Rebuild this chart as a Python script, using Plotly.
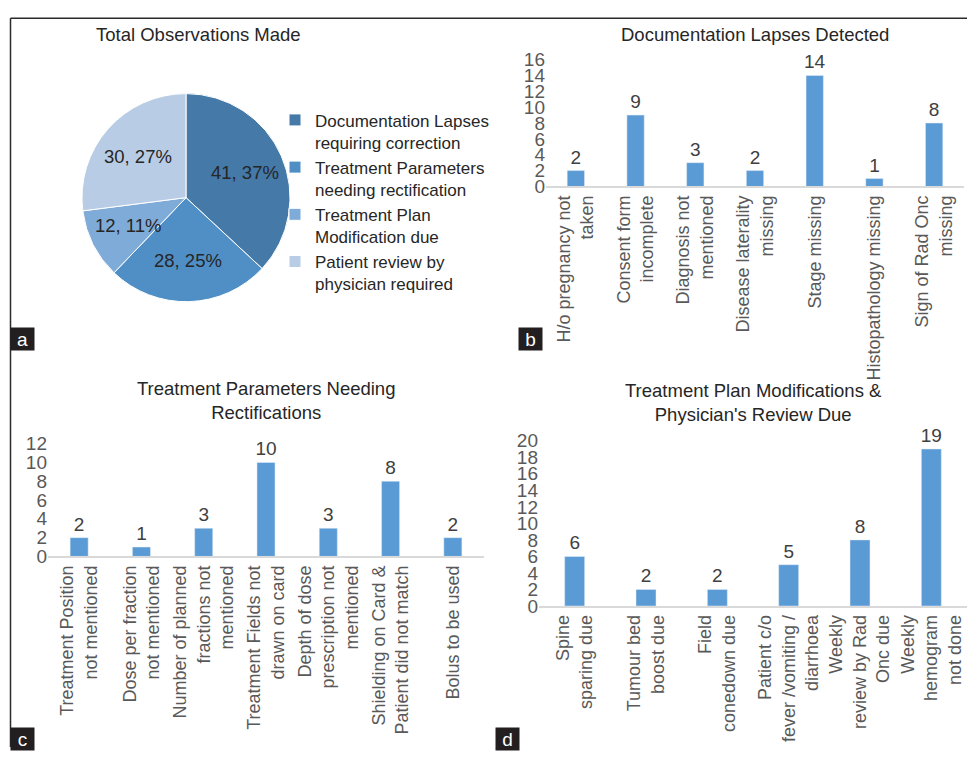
import math
import plotly.graph_objects as go

W, H = 967, 758

# ---------------- data ----------------
pie_labels = ["Documentation Lapses<br>requiring correction",
              "Treatment Parameters<br>needing rectification",
              "Treatment Plan<br>Modification due",
              "Patient review by<br>physician required"]
pie_values = [41, 28, 12, 30]
pie_colors = ["#4479A8", "#4F8FC6", "#7EABD8", "#B8CDE5"]

doc_cats = ["H/o pregnancy not<br>taken", "Consent form<br>incomplete", "Diagnosis not<br>mentioned",
            "Disease laterality<br>missing", "Stage missing", "Histopathology missing",
            "Sign of Rad Onc<br>missing"]
doc_vals = [2, 9, 3, 2, 14, 1, 8]

par_cats = ["Treatment Position<br>not mentioned", "Dose per fraction<br>not mentioned",
            "Number of planned<br>fractions not<br>mentioned", "Treatment Fields not<br>drawn on card",
            "Depth of dose<br>prescription not<br>mentioned", "Shielding on Card &<br>Patient did not match",
            "Bolus to be used"]
par_vals = [2, 1, 3, 10, 3, 8, 2]

plan_cats = ["Spine<br>sparing due", "Tumour bed<br>boost due", "Field<br>conedown due",
             "Patient c/o<br>fever /vomiting /<br>diarrhoea", "Weekly<br>review by Rad<br>Onc due",
             "Weekly<br>hemogram<br>not done"]
plan_vals = [6, 2, 2, 5, 8, 19]

titles = ["Total Observations Made", "Documentation Lapses Detected",
          "Treatment Parameters Needing<br>Rectifications",
          "Treatment Plan Modifications &<br>Physician's Review Due"]
panel_letters = ["a", "b", "c", "d"]

# ---------------- styling ----------------
FONT = "Liberation Sans, Arial, sans-serif"
BAR = "#5B9BD5"
TICK = "#595959"
DARK = "#262626"


def px(x):
    return x / W


def py(y):
    return 1 - y / H


fig = go.Figure()

# pie geometry (pixels)
PIE_L, PIE_R, PIE_T, PIE_B = 79, 293, 86, 300
fig.add_trace(go.Pie(
    labels=pie_labels, values=pie_values, sort=False, direction="clockwise", rotation=0,
    marker=dict(colors=pie_colors, line=dict(color="white", width=1)),
    textinfo="none",
    domain=dict(x=[px(PIE_L), px(PIE_R)], y=[py(PIE_B), py(PIE_T)]),
    hoverinfo="skip", showlegend=True))

# slice labels "value, percent" placed along each slice's mid-angle (derived from the data)
total = sum(pie_values)
cx, cy, r = (PIE_L + PIE_R) / 2, (PIE_T + PIE_B) / 2, (PIE_R - PIE_L) / 2
cum = 0
for v in pie_values:
    mid = (cum + v / 2) / total * 2 * math.pi
    cum += v
    lx = cx + 0.6 * r * math.sin(mid)
    ly = cy - 0.6 * r * math.cos(mid)
    fig.add_annotation(text=f"{v}, {round(100 * v / total)}%", x=px(lx), y=py(ly),
                       xref="paper", yref="paper", showarrow=False,
                       xanchor="center", yanchor="middle",
                       font=dict(size=18.5, color=DARK, family=FONT))

bar_specs = [
    (doc_cats, doc_vals, "x", "y", 0.29),
    (par_cats, par_vals, "x2", "y2", 0.29),
    (plan_cats, plan_vals, "x3", "y3", 0.28),
]
for cats, vals, xa, ya, w in bar_specs:
    fig.add_trace(go.Bar(
        x=cats, y=vals, xaxis=xa, yaxis=ya, width=w, marker_color=BAR,
        text=vals, textposition="outside", cliponaxis=False, constraintext="none",
        textfont=dict(size=19, color="#404040", family=FONT),
        showlegend=False, hoverinfo="skip"))

xcommon = dict(showline=True, linecolor="#D9D9D9", linewidth=1.5, ticks="", showgrid=False,
               tickangle=-90, tickfont=dict(size=18, color=TICK, family=FONT), zeroline=False)
ycommon = dict(showline=False, showgrid=False, zeroline=False, ticks="", dtick=2,
               tickfont=dict(size=19, color=TICK, family=FONT))

fig.update_layout(
    width=W, height=H, margin=dict(l=0, r=0, t=0, b=0),
    paper_bgcolor="white", plot_bgcolor="white",
    font=dict(family=FONT, color=DARK),
    xaxis=dict(domain=[px(546), px(964)], anchor="y", **xcommon),
    yaxis=dict(domain=[py(181.5), py(51)], anchor="x", range=[0, 16], **ycommon),
    xaxis2=dict(domain=[px(48), px(484)], anchor="y2", **xcommon),
    yaxis2=dict(domain=[py(562), py(446)], anchor="x2", range=[0, 12], **ycommon),
    xaxis3=dict(domain=[px(539), px(967)], anchor="y3", **xcommon),
    yaxis3=dict(domain=[py(613), py(443)], anchor="x3", range=[0, 20], **ycommon),
    legend=dict(x=px(275), y=py(95), xanchor="left", yanchor="top", valign="top",
                font=dict(size=17, color=DARK, family=FONT), bgcolor="rgba(0,0,0,0)",
                tracegroupgap=0),
)

title_pos = [(198, 25), (755, 25), (266, 402), (753, 404)]
for t, (x, y) in zip(titles, title_pos):
    fig.add_annotation(text=t, x=px(x), y=py(y), xref="paper", yref="paper", showarrow=False,
                       xanchor="center", yanchor="middle",
                       font=dict(size=18.5, color=DARK, family=FONT))

letter_pos = [(10, 326), (518, 326), (10, 737), (495, 737)]
for t, (x, y) in zip(panel_letters, letter_pos):
    fig.add_annotation(text=t, x=px(x), y=py(y), xref="paper", yref="paper", showarrow=False,
                       xanchor="left", yanchor="top", width=23, height=22, borderpad=0,
                       bgcolor="#231F20", font=dict(size=19, color="white", family=FONT))

fig.add_shape(type="line", xref="paper", yref="paper", x0=px(10.5), x1=px(10.5), y0=py(8.5), y1=0,
              line=dict(color="#2B2B2B", width=1.5))
fig.add_shape(type="line", xref="paper", yref="paper", x0=px(10.5), x1=1, y0=py(8.5), y1=py(8.5),
              line=dict(color="#2B2B2B", width=1.5))

fig.write_html("out.html")
